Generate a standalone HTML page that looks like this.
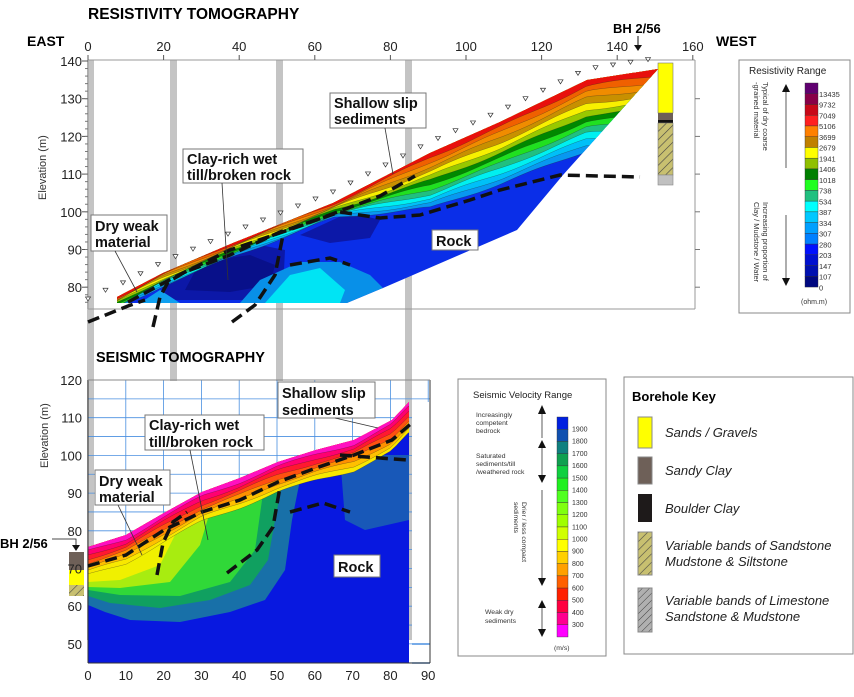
<!DOCTYPE html>
<html><head><meta charset="utf-8"><style>
body{margin:0;background:#fff;width:854px;height:697px;overflow:hidden}
svg{display:block;font-family:"Liberation Sans",Arial,sans-serif}
.b{font-weight:bold}
</style></head><body>
<svg id="s" width="854" height="697" viewBox="0 0 854 697" xmlns="http://www.w3.org/2000/svg">
<defs>
<pattern id="hat" width="6" height="6" patternUnits="userSpaceOnUse" patternTransform="rotate(45)">
<rect width="6" height="6" fill="#c8c070"/><line x1="0" y1="0" x2="0" y2="6" stroke="#444" stroke-width="1.2"/></pattern>
<pattern id="hat2" width="5" height="5" patternUnits="userSpaceOnUse" patternTransform="rotate(45)">
<rect width="5" height="5" fill="#b0b0b0"/><line x1="0" y1="0" x2="0" y2="5" stroke="#444" stroke-width="1"/></pattern>
<clipPath id="c1"><polygon points="117,297 163,273 233,243 333,203 430,153 500,122 587,80 658,69 563,175 517,230 383,288 347,303 117,303"/></clipPath>
<clipPath id="c2"><polygon points="88,547 126,535 164,513 202,492 240,478 278,462 316,450 354,440 392,420 409,402 409,663 88,663"/></clipPath>
</defs>
<g fill="#c4c4c4">
<rect x="87" y="60" width="7" height="580"/><rect x="170" y="60" width="7" height="580"/>
<rect x="276" y="60" width="7" height="580"/><rect x="405" y="60" width="7" height="580"/>
</g>
<rect x="95" y="381" width="308" height="281" fill="#fff"/>
<g stroke="#999" fill="none"><line x1="88" y1="60" x2="695" y2="60"/><line x1="695" y1="60" x2="695" y2="309"/><line x1="88" y1="309" x2="695" y2="309"/><line x1="88" y1="60" x2="88" y2="309"/></g>
<g id="topdata" clip-path="url(#c1)">
<rect x="100" y="60" width="600" height="260" fill="#0a2ee8"/>
<polygon points="160,300 165,270 200,255 260,245 285,250 283,290 250,300" fill="#0c18a8"/>
<polygon points="185,290 200,262 250,255 275,265 270,285 230,292" fill="#08108a"/>
<polygon points="300,235 350,212 380,220 370,238 330,243" fill="#0c18a8"/>
<polygon points="240,303 260,280 300,262 340,262 370,275 383,288 347,303" fill="#0890e8"/>
<polygon points="265,303 290,275 320,268 345,290 340,303" fill="#00e4f4"/>
<polygon points="140,303 160,290 180,303" fill="#10a0f0"/>
</g>
<g id="botgrid" stroke="#4a8fe0" stroke-width="0.8"></g>
<g id="botdata" clip-path="url(#c2)">
<rect x="80" y="390" width="340" height="280" fill="#0818e0"/>
<polygon points="340,455 345,520 365,530 409,520 409,455" fill="#1858b8"/>
<polygon points="88,540 300,450 300,480 292,520 285,570 265,600 230,612 180,622 130,620 105,612 88,605" fill="#1870a8"/>
<polygon points="88,540 280,455 283,480 275,520 268,560 250,585 210,600 160,608 110,603 88,596" fill="#10a060"/>
<polygon points="88,540 265,460 262,500 255,550 230,582 180,596 120,595 88,590" fill="#30d838"/>
<polygon points="88,540 220,475 212,505 200,545 170,582 120,588 88,587" fill="#a8ec10"/>
<polygon points="88,540 190,495 180,525 160,565 120,580 88,582" fill="#f0f000"/>
</g>
<g id="botbands" clip-path="url(#c2)"></g>
<g id="topbands" clip-path="url(#c1)"></g>
<rect x="412" y="402" width="18" height="261" fill="#fff"/>
<g stroke="#4a8fe0" stroke-width="1.4"><line x1="412" y1="644" x2="430" y2="644"/><line x1="412" y1="663" x2="430" y2="663"/></g>
<g stroke="#333" fill="none"><line x1="88" y1="380" x2="88" y2="663"/><line x1="88" y1="663" x2="430" y2="663"/><line x1="430" y1="380" x2="430" y2="663"/><line x1="88" y1="380" x2="430" y2="380" stroke="#888"/></g>
<g fill="none" stroke="#111" stroke-width="3.5" stroke-dasharray="12,6">
<polyline points="88,322 128,306 145,300"/>
<polyline points="153,327 160,297 168,282 185,272 230,255 280,232 340,212 380,218 420,215 470,200 500,190 560,175 640,177"/>
<polyline points="232,322 255,305 275,275 283,235"/>
<polyline points="290,265 330,258 350,265"/>
<polyline points="128,302 175,277 230,250 300,226 380,196 415,176"/>
<polyline points="88,566 126,555 164,530 202,512 240,500 278,482 316,468 354,455 392,440 413,422"/>
<polyline points="227,573 257,550 273,527 280,487"/>
<polyline points="290,512 323,503 350,512"/>
<polyline points="157,575 163,543 173,522 187,512"/>
<polyline points="340,455 407,460"/>
</g>
<g id="tri" fill="#fff" stroke="#333" stroke-width="0.7"></g>
<rect x="658" y="63" width="15" height="50" fill="#ffff00" stroke="#777" stroke-width="0.6"/>
<rect x="658" y="113" width="15" height="7" fill="#6e6058"/>
<rect x="658" y="120" width="15" height="3" fill="#111"/>
<rect x="658" y="123" width="15" height="52" fill="url(#hat)" stroke="#777" stroke-width="0.6"/>
<rect x="658" y="175" width="15" height="10" fill="#c0c0c0" stroke="#888" stroke-width="0.6"/>
<rect x="69" y="552" width="15" height="18" fill="#6e6058"/>
<rect x="69" y="570" width="15" height="15" fill="#ffff00"/>
<rect x="69" y="585" width="15" height="11" fill="url(#hat)"/>
<g font-size="13" fill="#222" id="toplabels"></g>
<text x="88" y="19" font-size="15.5" class="b">RESISTIVITY TOMOGRAPHY</text>
<text x="27" y="46" font-size="14" class="b">EAST</text>
<text x="716" y="46" font-size="14" class="b">WEST</text>
<text x="613" y="33" font-size="13" class="b">BH 2/56</text>
<line x1="638" y1="36" x2="638" y2="48" stroke="#111"/><polygon points="634,45 642,45 638,51" fill="#111"/>
<text x="96" y="362" font-size="14.5" class="b">SEISMIC TOMOGRAPHY</text>
<text x="0" y="548" font-size="13" class="b">BH 2/56</text>
<polyline points="52,539 76,539 76,548" fill="none" stroke="#111" stroke-width="0.8"/><polygon points="72,545 80,545 76,551" fill="#111"/>
<text transform="translate(46,200) rotate(-90)" font-size="11" fill="#333">Elevation (m)</text>
<text transform="translate(48,468) rotate(-90)" font-size="11" fill="#333">Elevation (m)</text>
<g font-size="14.5" class="b" fill="#111">
<g fill="#fff" stroke="#777"><rect x="91" y="215" width="76" height="36"/><rect x="183" y="149" width="120" height="34"/><rect x="330" y="93" width="96" height="35"/><rect x="432" y="230" width="46" height="20"/>
<rect x="278" y="382" width="97" height="36"/><rect x="145" y="415" width="119" height="35"/><rect x="95" y="470" width="75" height="35"/><rect x="334" y="555" width="46" height="22"/></g>
<text x="95" y="231">Dry weak</text><text x="95" y="247">material</text>
<text x="187" y="164">Clay-rich wet</text><text x="187" y="180">till/broken rock</text>
<text x="334" y="108">Shallow slip</text><text x="334" y="124">sediments</text>
<text x="436" y="246">Rock</text>
<text x="282" y="398">Shallow slip</text><text x="282" y="415">sediments</text>
<text x="149" y="430">Clay-rich wet</text><text x="149" y="447">till/broken rock</text>
<text x="99" y="486">Dry weak</text><text x="99" y="502">material</text>
<text x="338" y="572">Rock</text>
</g>
<g stroke="#333" stroke-width="0.8" fill="none">
<line x1="115" y1="251" x2="137" y2="292"/><line x1="222" y1="183" x2="228" y2="280"/><line x1="385" y1="128" x2="393" y2="174"/>
<line x1="335" y1="418" x2="378" y2="428"/><line x1="190" y1="450" x2="208" y2="540"/><line x1="118" y1="505" x2="142" y2="555"/>
</g>
<rect x="739" y="60" width="111" height="253" fill="#fff" stroke="#888"/>
<text x="749" y="74" font-size="10" fill="#222">Resistivity Range</text>
<g id="rbar"></g>
<text transform="translate(763,82) rotate(90)" font-size="7.5" fill="#333">Typical of dry coarse</text>
<text transform="translate(754,82) rotate(90)" font-size="7.5" fill="#333">-grained material</text>
<text transform="translate(763,202) rotate(90)" font-size="7.5" fill="#333">Increasing proportion of</text>
<text transform="translate(754,202) rotate(90)" font-size="7.5" fill="#333">Clay / Mudstone / Water</text>
<g stroke="#333" stroke-width="0.8"><line x1="786" y1="92" x2="786" y2="168"/><line x1="786" y1="215" x2="786" y2="280"/></g>
<polygon points="782,92 790,92 786,84" fill="#111"/><polygon points="782,278 790,278 786,286" fill="#111"/>
<text x="801" y="304" font-size="7" fill="#333">(ohm.m)</text>
<rect x="458" y="379" width="148" height="277" fill="#fff" stroke="#888"/>
<text x="473" y="398" font-size="9.5" fill="#222">Seismic Velocity Range</text>
<g font-size="6.8" fill="#333">
<text x="476" y="417">Increasingly</text><text x="476" y="425">competent</text><text x="476" y="433">bedrock</text>
<text x="476" y="458">Saturated</text><text x="476" y="466">sediments/till</text><text x="476" y="474">/weathered rock</text>
<text x="485" y="614">Weak dry</text><text x="485" y="623">sediments</text>
<text x="554" y="650">(m/s)</text>
</g>
<text transform="translate(522,502) rotate(90)" font-size="6.8" fill="#333">Drier / less compact</text>
<text transform="translate(514,502) rotate(90)" font-size="6.8" fill="#333">sediments</text>
<g stroke="#333" stroke-width="0.8"><line x1="542" y1="410" x2="542" y2="438"/><line x1="542" y1="445" x2="542" y2="478"/><line x1="542" y1="490" x2="542" y2="583"/><line x1="542" y1="605" x2="542" y2="633"/></g>
<g fill="#111"><polygon points="538,414 546,414 542,405"/><polygon points="538,448 546,448 542,440"/><polygon points="538,475 546,475 542,483"/><polygon points="538,578 546,578 542,586"/><polygon points="538,608 546,608 542,600"/><polygon points="538,629 546,629 542,637"/></g>
<g id="sbar"></g>
<rect x="624" y="377" width="229" height="277" fill="#fff" stroke="#888"/>
<text x="632" y="401" font-size="13" class="b">Borehole Key</text>
<rect x="638" y="417" width="14" height="31" fill="#ffff00" stroke="#888"/>
<rect x="638" y="457" width="14" height="27" fill="#6e6058" stroke="#888"/>
<rect x="638" y="494" width="14" height="28" fill="#1e1a1a"/>
<rect x="638" y="532" width="14" height="43" fill="url(#hat)" stroke="#888"/>
<rect x="638" y="588" width="14" height="44" fill="url(#hat2)" stroke="#888"/>
<g font-size="13" font-style="italic" fill="#222">
<text x="665" y="437">Sands / Gravels</text><text x="665" y="475">Sandy Clay</text><text x="665" y="513">Boulder Clay</text>
<text x="665" y="550">Variable bands of Sandstone</text><text x="665" y="566">Mudstone &amp; Siltstone</text>
<text x="665" y="605">Variable bands of Limestone</text><text x="665" y="621">Sandstone &amp; Mudstone</text>
</g>
</svg>
<script>
var NS="http://www.w3.org/2000/svg";
function el(p,t,a,txt){var e=document.createElementNS(NS,t);for(var k in a)e.setAttribute(k,a[k]);if(txt!==undefined)e.textContent=txt;document.getElementById(p).appendChild(e);return e;}
function interp(pts,x){for(var i=0;i<pts.length-1;i++){if(x<=pts[i+1][0]){var t=(x-pts[i][0])/(pts[i+1][0]-pts[i][0]);return pts[i][1]+t*(pts[i+1][1]-pts[i][1]);}}return pts[pts.length-1][1];}
function bands(g,top,x0,x1,Df,cols){
 for(var b=cols.length-1;b>=0;b--){var f=(b+1)/cols.length;var s=[];
  for(var x=x0;x<=x1;x+=6){s.push(x+","+(interp(top,x)-4));}
  for(var x=x1;x>=x0;x-=6){s.push(x+","+(interp(top,x)+Df(x)*f+Math.sin(x/17+b)*1.2));}
  el(g,"polygon",{points:s.join(" "),fill:cols[b],stroke:"#222","stroke-width":"0.4","stroke-opacity":"0.6"});}
}
var top1=[[110,300],[117,297],[163,273],[233,243],[333,203],[430,153],[500,122],[587,80],[658,69],[700,65]];
bands("topbands",top1,105,700,function(x){if(x<333)return 12+(x-117)*0.015;if(x<430)return 15+(x-333)*0.41;return 55+(x-430)*0.1;},
 ["#e8100c","#f06000","#f08c00","#c89000","#f8f000","#98c800","#008800","#20e020","#20c080","#00f0f0","#00c0f8","#0898f0"]);
var top2=[[80,549],[88,547],[126,535],[164,513],[202,492],[240,478],[278,462],[316,450],[354,440],[392,420],[409,402],[420,398]];
bands("botbands",top2,80,420,function(x){return 28+(x-88)*0.01;},
 ["#ff10c0","#ff0070","#ff1830","#ff5010","#ff9000","#ffc000","#f8e800"]);
for(var i=0;i<=9;i++){var x=88+i*37.8;el("botgrid","line",{x1:x,y1:380,x2:x,y2:663});}
for(var e=120;e>=45;e-=5){var y=380+(120-e)*3.77;el("botgrid","line",{x1:88,y1:y,x2:430,y2:y});}
for(var i=0;i<=8;i++){var x=88+i*75.6;el("toplabels","text",{x:x,y:51,"text-anchor":"middle"},String(i*20));el("toplabels","line",{x1:x,y1:55,x2:x,y2:60,stroke:"#555"});}
for(var e=140;e>=80;e-=10){var y=61+(140-e)*3.77;el("toplabels","text",{x:82,y:y+5,"text-anchor":"end"},String(e));el("toplabels","line",{x1:82,y1:y,x2:88,y2:y,stroke:"#555"});}
for(var e=138;e>75;e-=2){var y=61+(140-e)*3.77;el("toplabels","line",{x1:85,y1:y,x2:88,y2:y,stroke:"#777"});}
for(var e=130;e>75;e-=10){var y=61+(140-e)*3.77;el("toplabels","line",{x1:695,y1:y,x2:700,y2:y,stroke:"#777"});}
for(var e=120;e>=50;e-=10){var y=380+(120-e)*3.77;el("toplabels","text",{x:82,y:y+5,"text-anchor":"end"},String(e));}
for(var i=0;i<=9;i++){var x=88+i*37.8;el("toplabels","text",{x:x,y:680,"text-anchor":"middle"},String(i*10));}
for(var i=0;i<34;i++){var x=88+i*17.5;if(x>660)break;var y=interp(top1,Math.max(x,117))-13;if(x<117)y=303-(x-88)*0.5-6;
 el("tri","polygon",{points:(x-2.5)+","+y+" "+(x+2.5)+","+y+" "+x+","+(y+4)});}
var rc=["#600070","#880048","#c80818","#ff2020","#ff8000","#c08000","#ffff00","#90c000","#008000","#20ff20","#20c080","#00ffff","#00c8ff","#00a0ff","#0080ff","#0010ff","#0010d0","#0010b0","#000880"];
var rl=["13435","9732","7049","5106","3699","2679","1941","1406","1018","738","534","387","334","307","280","203","147","107","0"];
for(var i=0;i<19;i++){var y=83+i*10.74;el("rbar","rect",{x:805,y:y,width:13,height:10.74,fill:rc[i],stroke:"#333","stroke-width":"0.4"});
 el("rbar","text",{x:819,y:y+14,"font-size":"7.5",fill:"#333"},rl[i]);}
var sc=["#0020e0","#1050b0","#108080","#10a050","#10d040","#20f020","#50ff20","#80ff10","#a0ff00","#d0ff00","#ffff00","#ffd000","#ffa000","#ff6000","#ff2000","#ff0040","#ff0090","#ff00ff"];
for(var i=0;i<18;i++){var y=417+i*12.22;el("sbar","rect",{x:557,y:y,width:11,height:12.22,fill:sc[i],stroke:"#333","stroke-width":"0.4"});
 if(i<17)el("sbar","text",{x:572,y:y+14.5,"font-size":"7",fill:"#333"},String(1900-i*100));}
</script>
</body></html>
